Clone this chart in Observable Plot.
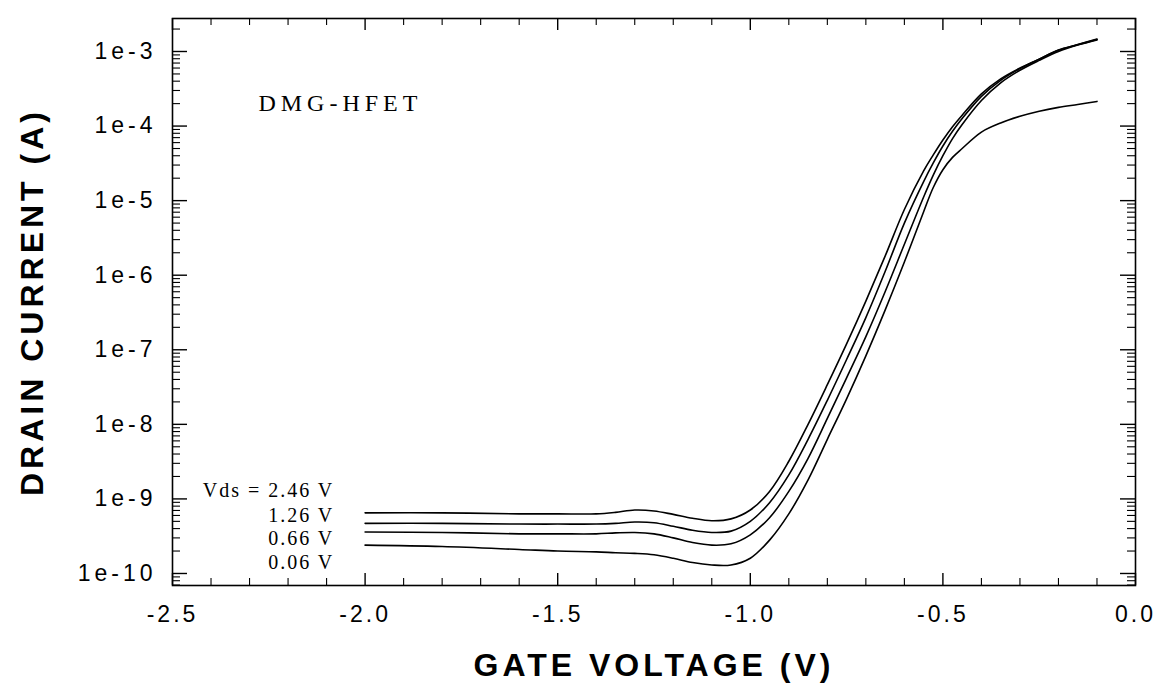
<!DOCTYPE html>
<html><head><meta charset="utf-8">
<script src="https://cdn.jsdelivr.net/npm/d3@7"></script>
<script src="https://cdn.jsdelivr.net/npm/@observablehq/plot@0.6"></script>
<style>body{margin:0;background:#fff} svg{display:block}</style>
</head><body><div id="chart"></div>
<script>
// Gate voltage (V)
const gateVoltage = [-2.0,-1.8,-1.6,-1.5,-1.4,-1.35,-1.3,-1.25,-1.2,-1.15,-1.1,-1.05,-1.0,-0.95,-0.9,-0.85,-0.8,-0.75,-0.7,-0.65,-0.6,-0.55,-0.525,-0.5,-0.475,-0.45,-0.4,-0.35,-0.3,-0.25,-0.2,-0.15,-0.1];
// Drain current (A) for each Vds
const id246 = [6.5e-10,6.5e-10,6.3e-10,6.3e-10,6.3e-10,6.6e-10,7.1e-10,6.9e-10,6.2e-10,5.5e-10,5.1e-10,5.4e-10,7.1e-10,1.26e-9,3.2e-9,1.0e-8,3.4e-8,1.2e-7,4.5e-7,1.8e-6,7.6e-6,2.5e-5,4.1e-5,6.5e-5,9.8e-5,1.4e-4,2.7e-4,4.3e-4,6.0e-4,7.9e-4,1.05e-3,1.23e-3,1.45e-3];
const id126 = [4.7e-10,4.7e-10,4.6e-10,4.6e-10,4.6e-10,4.7e-10,4.9e-10,4.8e-10,4.3e-10,3.8e-10,3.55e-10,3.7e-10,5.0e-10,8.9e-10,2.1e-9,6.3e-9,2.1e-8,7.4e-8,2.7e-7,1.12e-6,5.0e-6,1.8e-5,3.2e-5,5.4e-5,8.5e-5,1.26e-4,2.5e-4,4.1e-4,5.9e-4,7.9e-4,1.04e-3,1.24e-3,1.47e-3];
const id066 = [3.6e-10,3.55e-10,3.4e-10,3.4e-10,3.4e-10,3.5e-10,3.55e-10,3.4e-10,3.0e-10,2.6e-10,2.4e-10,2.5e-10,3.3e-10,5.6e-10,1.26e-9,3.5e-9,1.2e-8,4.2e-8,1.5e-7,6.0e-7,2.6e-6,1.12e-5,2.2e-5,4.0e-5,6.8e-5,1.05e-4,2.2e-4,3.8e-4,5.6e-4,7.6e-4,1.0e-3,1.22e-3,1.43e-3];
const id006 = [2.4e-10,2.3e-10,2.1e-10,2.0e-10,1.95e-10,1.9e-10,1.86e-10,1.78e-10,1.6e-10,1.4e-10,1.3e-10,1.3e-10,1.6e-10,2.8e-10,6.3e-10,1.8e-9,6.3e-9,2.2e-8,8.3e-8,3.4e-7,1.5e-6,7.1e-6,1.5e-5,2.6e-5,3.8e-5,5.0e-5,8.3e-5,1.1e-4,1.35e-4,1.58e-4,1.78e-4,1.95e-4,2.14e-4];
const vdsValues = ["2.46", "1.26", "0.66", "0.06"];
const currents = [id246, id126, id066, id006];

// Ticks
const xTicks = [-2.5, -2.0, -1.5, -1.0, -0.5, 0.0];
const yTicks = [1e-10, 1e-9, 1e-8, 1e-7, 1e-6, 1e-5, 1e-4, 1e-3];

// Annotations
const vdsLabels = ["Vds = 2.46 V", "1.26 V", "0.66 V", "0.06 V"];
const vdsLabelV = [-2.08, -2.08, -2.08, -2.08];
const vdsLabelI = [1.3e-9, 6.0e-10, 2.95e-10, 1.4e-10];
const deviceName = "DMG-HFET";
const deviceV = -2.277, deviceI = 2.0e-4;
const xTitle = "GATE VOLTAGE (V)";
const yTitle = "DRAIN CURRENT (A)";

// Build tables
const rows = vdsValues.flatMap((s, k) => gateVoltage.map((v, i) => ({vds: s, v, id: currents[k][i]})));
const yDomain = [6.9e-11, 2.77e-3];
const yMinor = d3.range(-11, -2).flatMap(e => d3.range(2, 10).map(m => +(m + "e" + e))).filter(v => v >= yDomain[0] && v <= yDomain[1]);
const xMinor = d3.range(-25, 1).map(k => k / 10).filter(v => !xTicks.some(t => Math.abs(t - v) < 1e-9));
const labels = vdsLabels.map((t, i) => ({t, v: vdsLabelV[i], id: vdsLabelI[i]}));

const W = 1163, H = 686, mL = 172, mR = 28, mT = 18, mB = 101;
const pw = W - mL - mR, ph = H - mT - mB;
const sans = "'Liberation Sans', Arial, Helvetica, sans-serif";
const serif = "'Liberation Serif', 'Times New Roman', serif";

const chart = Plot.plot({
  width: W, height: H,
  marginLeft: mL, marginRight: mR, marginTop: mT, marginBottom: mB,
  style: {fontFamily: sans, color: "black", background: "white"},
  x: {domain: [-2.5, 0]},
  y: {type: "log", domain: yDomain},
  marks: [
    Plot.frame({stroke: "black", strokeWidth: 1.6}),
    // major/minor ticks on all four sides, pointing inward
    Plot.tickY(yTicks, {y: d => d, insetRight: pw - 15, strokeWidth: 1.4}),
    Plot.tickY(yTicks, {y: d => d, insetLeft: pw - 15, strokeWidth: 1.4}),
    Plot.tickY(yMinor, {y: d => d, insetRight: pw - 8, strokeWidth: 1.1}),
    Plot.tickY(yMinor, {y: d => d, insetLeft: pw - 8, strokeWidth: 1.1}),
    Plot.tickX(xTicks, {x: d => d, insetBottom: ph - 12, strokeWidth: 1.4}),
    Plot.tickX(xTicks, {x: d => d, insetTop: ph - 12, strokeWidth: 1.4}),
    Plot.tickX(xMinor, {x: d => d, insetBottom: ph - 7, strokeWidth: 1.1}),
    Plot.tickX(xMinor, {x: d => d, insetTop: ph - 7, strokeWidth: 1.1}),
    Plot.axisY({ticks: yTicks, tickSize: 0, tickPadding: 16, fontSize: 23, label: null,
      tickFormat: d => "1e" + Math.round(Math.log10(d))}),
    Plot.axisX({ticks: xTicks, tickSize: 0, tickPadding: 20, fontSize: 23, label: null,
      tickFormat: d => d.toFixed(1)}),
    Plot.line(rows, {x: "v", y: "id", z: "vds", curve: "catmull-rom", stroke: "black", strokeWidth: 1.6}),
    Plot.text(labels, {x: "v", y: "id", text: "t", textAnchor: "end", fontSize: 20, fontFamily: serif}),
    Plot.text([deviceName], {x: () => deviceV, y: () => deviceI, text: d => d, textAnchor: "start", fontSize: 24, fontFamily: serif}),
    Plot.text([xTitle], {frameAnchor: "bottom", dy: 80, lineAnchor: "middle", textAnchor: "middle", text: d => d, fontSize: 32, fontWeight: "bold"}),
    Plot.text([yTitle], {frameAnchor: "left", dx: -140, rotate: -90, lineAnchor: "middle", textAnchor: "middle", text: d => d, fontSize: 32, fontWeight: "bold"})
  ]
});
document.getElementById("chart").appendChild(chart);
const spacing = new Map([[deviceName, "5"], [xTitle, "4"], [yTitle, "4"]]);
vdsLabels.forEach(t => spacing.set(t, "2"));
chart.querySelectorAll("text").forEach(t => {
  const s = spacing.get(t.textContent);
  if (s) t.setAttribute("letter-spacing", s);
});
const ls = (sel, v) => chart.querySelectorAll(sel).forEach(g => g.setAttribute("letter-spacing", v));
ls('g[aria-label="y-axis tick label"]', "4");
ls('g[aria-label="x-axis tick label"]', "3");
</script>
</body></html>
